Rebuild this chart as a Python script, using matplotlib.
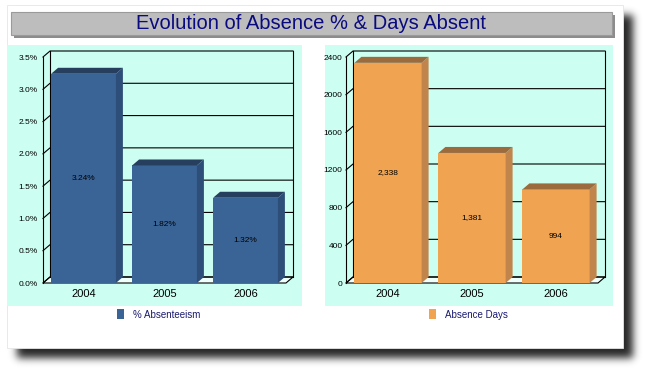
import math
import numpy as np
import matplotlib
matplotlib.use("Agg")
import matplotlib.pyplot as plt
from matplotlib.patches import Rectangle, Polygon, Patch

plt.rcParams['font.family'] = ['Liberation Sans', 'DejaVu Sans']

# ---------------- data ----------------
years = ["2004", "2005", "2006"]
absence_pct = [3.24, 1.82, 1.32]
absence_pct_labels = ["3.24%", "1.82%", "1.32%"]
pct_ticks = [0.0, 0.5, 1.0, 1.5, 2.0, 2.5, 3.0, 3.5]
pct_tick_labels = ["0.0%", "0.5%", "1.0%", "1.5%", "2.0%", "2.5%", "3.0%", "3.5%"]
absence_days = [2338, 1381, 994]
absence_days_labels = ["2,338", "1,381", "994"]
days_ticks = [0, 400, 800, 1200, 1600, 2000, 2400]
days_tick_labels = ["0", "400", "800", "1200", "1600", "2000", "2400"]
title = "Evolution of Absence % & Days Absent"
legend_left = "% Absenteeism"
legend_right = "Absence Days"

W, H = 647, 372
fig = plt.figure(figsize=(W / 100, H / 100), dpi=100)

# ---------------- background layer (pixel coords) ----------------
bg = fig.add_axes([0, 0, 1, 1], zorder=0)
bg.set_xlim(0, W)
bg.set_ylim(H, 0)
bg.axis("off")

# blurred drop shadow of the white panel
erf = np.vectorize(math.erf)
def prof(n, a, b, s):
    t = np.arange(n) + 0.5
    return 0.5 * (erf((t - a) / (s * math.sqrt(2))) - erf((t - b) / (s * math.sqrt(2))))
px = prof(W, 17, 633, 4.0)
py = prof(H, 15, 358, 4.0)
alpha = np.outer(py, px) * 0.85
img = np.zeros((H, W, 4))
img[..., 3] = alpha
bg.imshow(img, extent=(0, W, H, 0), interpolation="bilinear", zorder=0)

# white panel
bg.add_patch(Rectangle((7, 5), 616, 343, facecolor="white", edgecolor="#e6e6e6", lw=0.6, zorder=1))

# title banner
bg.add_patch(Rectangle((14, 15), 601, 23, facecolor="#8c8c8c", edgecolor="none", zorder=2))
bg.add_patch(Rectangle((11, 12), 601, 23, facecolor="#bdbdbd", edgecolor="#9a9a9a", lw=0.8, zorder=3))
bg.text(311, 23.5, title, ha="center", va="center", fontsize=14.5, color="#0a0a80", zorder=4)

# cyan chart panels
bg.add_patch(Rectangle((7, 45), 295, 261, facecolor="#ccfff2", edgecolor="none", zorder=2))
bg.add_patch(Rectangle((325, 45), 288, 261, facecolor="#ccfff2", edgecolor="none", zorder=2))


def chart(x0, x1, ytop, ybot, values, labels, ymax, ticks, tick_labels,
          front, side, top, legend_label, legend_x, tick_pad):
    ax = fig.add_axes([x0 / W, 1 - ybot / H, (x1 - x0) / W, (ybot - ytop) / H], zorder=2)
    ax.patch.set_visible(False)
    for s in ax.spines.values():
        s.set_visible(False)
    ax.set_xlim(-0.5, len(values) - 0.5)
    ax.set_ylim(0, ymax)
    n = len(values)
    # depth in data units (7px right, 6px up)
    ddx = 7 * n / (x1 - x0)
    ddy = 6 * ymax / (ybot - ytop)
    L, R = -0.5, n - 0.5
    lk = dict(color="black", lw=0.8, clip_on=False)
    # floor
    ax.add_patch(Polygon([(L, 0), (R, 0), (R + ddx, ddy), (L + ddx, ddy)],
                         closed=True, facecolor="#effffb", edgecolor="black", lw=0.8,
                         clip_on=False, zorder=0.5))
    # back wall frame and gridlines
    for t in ticks:
        ax.plot([L, L + ddx, R + ddx], [t, t + ddy, t + ddy], zorder=0.6, **lk)
    ax.plot([L + ddx, L + ddx], [ddy, ymax + ddy], zorder=0.6, **lk)
    ax.plot([R + ddx, R + ddx], [ddy, ymax + ddy], zorder=0.6, **lk)
    ax.plot([L, L], [0, ymax], zorder=0.6, **lk)
    # bars
    xs = np.arange(n)
    w = 0.8
    bars = ax.bar(xs, values, width=w, color=front, edgecolor="none", zorder=3, label=legend_label)
    for xi, v, lab in zip(xs, values, labels):
        xl, xr = xi - w / 2, xi + w / 2
        ax.add_patch(Polygon([(xr, 0), (xr + ddx, ddy), (xr + ddx, v + ddy), (xr, v)],
                             closed=True, facecolor=side, edgecolor="none", zorder=3, clip_on=False))
        ax.add_patch(Polygon([(xl, v), (xl + ddx, v + ddy), (xr + ddx, v + ddy), (xr, v)],
                             closed=True, facecolor=top, edgecolor="none", zorder=3, clip_on=False))
        ax.text(xi, v / 2, lab, ha="center", va="center", fontsize=6, color="black", zorder=4)
    ax.set_yticks(ticks)
    ax.set_yticklabels(tick_labels, fontsize=6)
    ax.set_xticks(xs)
    ax.set_xticklabels(years, fontsize=8)
    ax.tick_params(axis="y", length=0, pad=tick_pad)
    ax.tick_params(axis="x", length=0, pad=4)
    ax.legend(handles=[bars], labels=[legend_label], loc="center left",
              bbox_to_anchor=(legend_x / W, 1 - 314.5 / H), bbox_transform=fig.transFigure,
              frameon=False, fontsize=7, labelcolor="#1a1a6e",
              handlelength=0.75, handleheight=1.15, handletextpad=0.85, borderpad=0,
              borderaxespad=0)
    return ax


chart(43, 286, 57, 283, absence_pct, absence_pct_labels, 3.5, pct_ticks, pct_tick_labels,
      "#3b6496", "#2d4e78", "#263f5e", legend_left, 117, 4)
chart(346, 598, 57, 283, absence_days, absence_days_labels, 2400, days_ticks, days_tick_labels,
      "#f0a452", "#c1844a", "#9b6b3d", legend_right, 429, 2.5)

fig.savefig("out.png", dpi=100)
